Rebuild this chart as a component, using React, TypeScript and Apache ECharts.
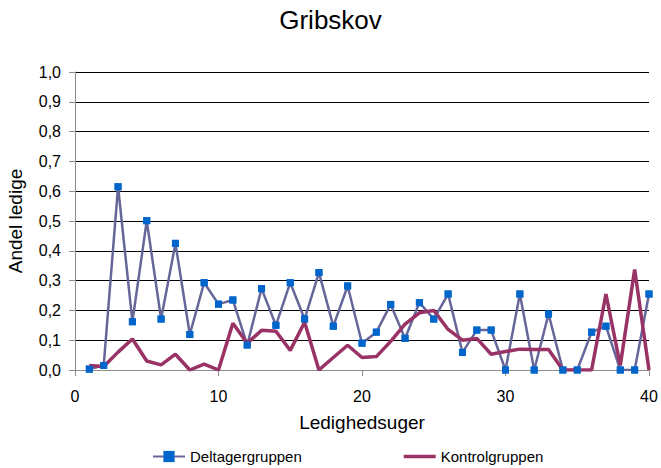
import React, { useEffect, useRef } from "react";
import * as echarts from "echarts";

const weeks = [1,2,3,4,5,6,7,8,9,10,11,12,13,14,15,16,17,18,19,20,21,22,23,24,25,26,27,28,29,30,31,32,33,34,35,36,37,38,39,40];

const deltagergruppen = [0.003, 0.015, 0.615, 0.162, 0.501, 0.171, 0.425, 0.119, 0.293, 0.221, 0.235, 0.084, 0.273, 0.150, 0.293, 0.171, 0.327, 0.147, 0.282, 0.090, 0.127, 0.220, 0.106, 0.226, 0.171, 0.255, 0.059, 0.134, 0.134, 0.000, 0.255, 0.000, 0.188, 0.000, 0.000, 0.127, 0.147, 0.000, 0.000, 0.255];

const kontrolgruppen = [0.015, 0.012, 0.060, 0.104, 0.030, 0.017, 0.053, 0.000, 0.020, 0.000, 0.157, 0.090, 0.133, 0.130, 0.066, 0.160, 0.000, 0.042, 0.083, 0.042, 0.045, 0.096, 0.154, 0.192, 0.200, 0.136, 0.100, 0.106, 0.053, 0.062, 0.070, 0.069, 0.069, 0.000, 0.000, 0.000, 0.255, 0.015, 0.337, 0.000];

const seriesNames = ["Deltagergruppen", "Kontrolgruppen"];
const titleText = "Gribskov";
const xName = "Ledighedsuger";
const yName = "Andel ledige";

const FONT = "'Liberation Sans', Arial, sans-serif";

export default function App() {
  const ref = useRef<HTMLDivElement>(null);
  useEffect(() => {
    if (!ref.current) return;
    const chart = echarts.init(ref.current, null, { renderer: "svg" });
    const deltagerPoints = weeks.map((w, i) => [w, deltagergruppen[i]]);
    const kontrolPoints = weeks.map((w, i) => [w, kontrolgruppen[i]]);
    chart.setOption({
      animation: false,
      backgroundColor: "#ffffff",
      textStyle: { fontFamily: FONT },
      title: {
        text: titleText,
        left: "center",
        top: 7,
        padding: 0,
        textStyle: { fontFamily: FONT, fontSize: 26, fontWeight: "normal", color: "#000" },
      },
      legend: {
        left: 152,
        top: 449,
        padding: 0,
        itemWidth: 32,
        itemHeight: 14,
        itemGap: 102,
        symbolKeepAspect: true,
        textStyle: { fontFamily: FONT, fontSize: 15, color: "#000" },
        data: [
          { name: seriesNames[0] },
          { name: seriesNames[1], icon: "path://M0,0 L32,0 L32,3.5 L0,3.5 Z" },
        ],
      },
      grid: {
        left: 75,
        right: 12,
        top: 72,
        bottom: 98,
        outerBoundsMode: "none",
      },
      xAxis: {
        type: "value",
        min: 0,
        max: 40,
        interval: 10,
        name: xName,
        nameLocation: "middle",
        nameGap: 43,
        nameTextStyle: { fontFamily: FONT, fontSize: 19, color: "#000" },
        axisLine: { show: true, lineStyle: { color: "#8c8c8c", width: 1 } },
        axisTick: { show: true, length: 6, lineStyle: { color: "#8c8c8c" } },
        axisLabel: { fontFamily: FONT, fontSize: 16, color: "#000", margin: 18 },
        splitLine: { show: false },
      },
      yAxis: {
        type: "value",
        min: 0,
        max: 1,
        interval: 0.1,
        name: yName,
        nameLocation: "middle",
        nameGap: 50,
        nameTextStyle: { fontFamily: FONT, fontSize: 19, color: "#000" },
        axisLine: { show: true, lineStyle: { color: "#8c8c8c", width: 1 } },
        axisTick: { show: true, length: 6, lineStyle: { color: "#8c8c8c" } },
        axisLabel: {
          fontFamily: FONT,
          fontSize: 16,
          color: "#000",
          margin: 14,
          formatter: (v: number) => v.toFixed(1).replace(".", ","),
        },
        splitLine: { show: true, lineStyle: { color: "#000", width: 1 } },
      },
      series: [
        {
          name: seriesNames[0],
          type: "line",
          data: deltagerPoints,
          symbol: "rect",
          symbolSize: 7,
          showSymbol: true,
          lineStyle: { color: "#666699", width: 2.5 },
          itemStyle: { color: "#0066CC", borderWidth: 0 },
          z: 2,
        },
        {
          name: seriesNames[1],
          type: "line",
          data: kontrolPoints,
          symbol: "none",
          showSymbol: false,
          lineStyle: { color: "#993366", width: 3.5 },
          itemStyle: { color: "#993366" },
          z: 3,
        },
        {
          name: seriesNames[0],
          type: "scatter",
          data: deltagerPoints,
          symbol: "rect",
          symbolSize: 7,
          itemStyle: { color: "#0066CC", borderWidth: 0, opacity: 1 },
          z: 4,
        },
      ],
    });
    return () => chart.dispose();
  }, []);
  return (
    <div
      ref={ref}
      style={{ position: "fixed", left: 0, top: 0, width: 661, height: 468 }}
    />
  );
}
